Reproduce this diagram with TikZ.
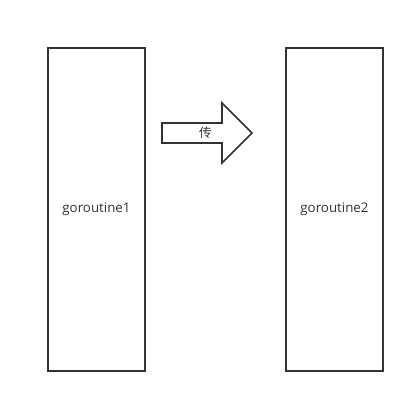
\documentclass[tikz,border=0pt]{standalone}
\usepackage{fontspec}
\setmainfont{Open Sans}
\newfontfamily\cjk{Noto Sans CJK SC}
\definecolor{ln}{HTML}{333333}
\begin{document}
\begin{tikzpicture}[x=0.75pt,y=-0.75pt,
  box/.style={draw=ln,line width=1.2pt,fill=white,minimum width=72.75pt,minimum height=242.25pt,inner sep=0pt,font=\fontsize{10pt}{12pt}\selectfont,text=ln},
  bigarrow/.style={draw=ln,line width=1.2pt,fill=white,line join=miter}]
\useasboundingbox (0,0) rectangle (415,403);
\node[box] (g1) at (96.5,209.5) {goroutine1};
\node[box] (g2) at (334.5,209.5) {goroutine2};
\draw[bigarrow] (162,123) -- (222,123) -- (222,103) -- (252,133) -- (222,163) -- (222,143) -- (162,143) -- cycle;
\node[text=ln,font=\cjk\fontsize{9.5pt}{11pt}\selectfont,inner sep=0pt] (lbl) at (205.5,133) {传};
\end{tikzpicture}
\end{document}
